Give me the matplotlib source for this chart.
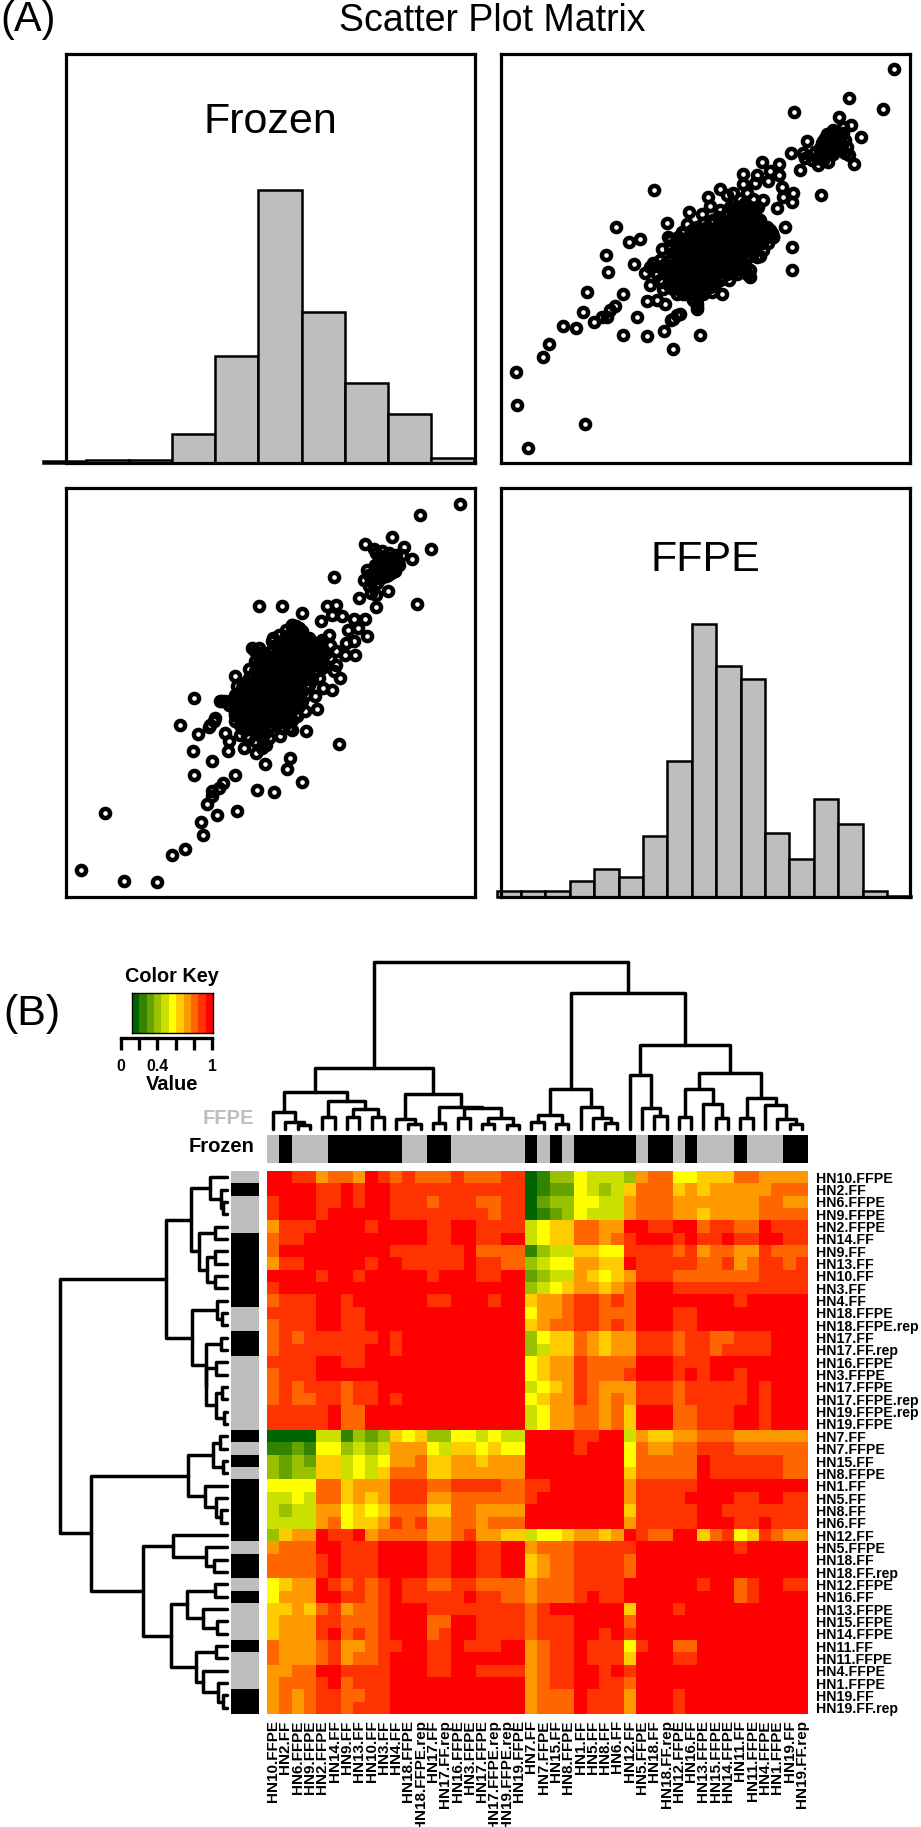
import numpy as np
import matplotlib
matplotlib.use("Agg")
import matplotlib.pyplot as plt
from matplotlib.colors import ListedColormap
from matplotlib.collections import LineCollection

plt.rcParams['font.family'] = ['Liberation Sans', 'DejaVu Sans']

W, H = 921, 1827

# ---------- panel A data (arbitrary expression units) ----------
ffpe_tail = [11.83,10.47,11.48,8.83,10.18,10.52,10.30,10.83,9.22,10.62,8.72,10.48,9.00,9.63,7.85,8.38,8.38,8.10,7.30,7.70,
             7.30,7.65,8.05,8.80,8.45,8.75,8.32,8.50,4.63,6.60,6.80,6.25,7.90,6.30,5.68,6.05,5.00,8.55,3.48,5.60,
             5.45,5.75,4.20,3.87,5.03,8.18,8.77,3.18,7.80,4.87,4.03,4.60,8.75,3.24,4.35,7.50,7.50,6.87,4.50,4.85,
             2.62,3.70,6.65,6.35,4.90,5.20,5.55,4.42,4.70,4.95,3.45,2.50,5.90,5.90,3.30,3.20,3.05,2.82,4.12,1.90,
             2.28,5.30,5.40,5.20,5.12,4.93,3.70,4.42,6.00,1.48,1.28,5.19,0.47,0.52,2.56,0.85]
frozen_tail = [11.80,10.93,10.61,10.51,10.38,10.13,10.06,9.78,9.66,8.95,9.28,9.23,8.78,8.03,9.01,8.95,8.63,8.75,8.65,8.63,
               8.36,8.40,8.46,8.08,8.28,7.83,7.65,7.98,8.18,8.21,8.03,7.96,7.88,7.70,7.53,7.46,7.18,7.08,7.07,7.16,
               6.93,6.93,6.71,6.63,6.76,6.78,6.46,6.23,6.20,6.40,5.97,6.00,5.80,5.72,5.71,5.78,5.58,5.50,5.33,5.43,
               5.14,5.08,5.08,5.13,5.23,5.23,5.08,4.85,4.88,4.78,4.70,4.53,4.63,4.78,4.58,4.38,4.38,4.23,4.37,4.11,
               4.06,4.43,4.46,4.33,4.28,3.96,3.85,3.81,3.83,3.57,3.18,3.42,2.72,1.74,1.16,0.45]
ffpe_upper = [9.75,9.90,10.05,10.20,10.00,9.85,10.15,10.35,10.40,9.90,10.10,9.75,9.60,9.45,9.85,9.55,9.15,9.35,9.10,10.35,10.00,10.30,9.70,9.65,
              9.80,9.95,10.10,9.80,10.00,10.25,9.70,9.95,10.15,9.60,9.50,9.65,9.85,10.00,10.20,9.75]
frozen_upper = [9.73,9.78,9.83,9.73,9.58,9.63,9.58,9.68,9.48,9.43,9.38,9.48,9.28,9.33,9.03,8.93,9.13,9.08,9.28,9.28,9.98,9.88,9.08,9.58,
                9.85,9.60,9.70,9.50,9.45,9.55,9.65,9.90,9.85,9.45,9.15,9.15,9.25,9.25,9.40,9.30]
core_rows = [
    (8.10, [7.0,7.4]),
    (7.90, [7.2,7.6]),
    (7.78, [6.95,7.35]),
    (7.68, [6.9,7.15,7.5,7.75]),
    (7.58, [6.6,7.05,7.35,7.65]),
    (7.48, [6.8,7.1,7.4,7.65]),
    (7.38, [6.55,6.95,7.25,7.55]),
    (7.28, [6.4,6.7,7.0,7.3,7.6,7.8]),
    (7.18, [6.1,6.35,6.85,7.15,7.45,7.75]),
    (7.08, [5.9,6.2,6.5,6.8,7.1,7.4,7.7,8.0]),
    (6.98, [5.75,6.05,6.35,6.65,6.95,7.25,7.55,7.85,8.1]),
    (6.88, [5.5,5.8,6.1,6.4,6.7,7.0,7.3,7.6,7.9,8.15]),
    (6.78, [5.35,5.65,5.95,6.25,6.55,6.85,7.15,7.45,7.75,8.0,8.2]),
    (6.68, [5.1,5.3,5.6,5.9,6.2,6.5,6.8,7.1,7.4,7.7]),
    (6.58, [5.25,5.45,5.75,6.05,6.35,6.65,6.95,7.25,7.55,7.85,8.05]),
    (6.48, [5.1,5.4,5.7,6.0,6.3,6.6,6.9,7.2,7.5]),
    (6.38, [5.55,5.85,6.15,6.45,6.75,7.05,7.35,7.65,7.9]),
    (6.28, [5.2,5.5,5.8,6.1,6.4,6.7,7.0,7.3,7.6]),
    (6.18, [5.35,5.65,5.95,6.25,6.55,6.85,7.15,7.45,7.7]),
    (6.08, [4.8,5.1,5.4,5.7,6.0,6.3,6.6,6.9,7.2]),
    (5.98, [4.95,5.25,5.55,5.85,6.15,6.45,6.75,7.05,7.35]),
    (5.88, [4.5,4.8,5.1,5.4,5.7,6.0,6.3,6.6,6.9,7.2]),
    (5.78, [4.95,5.25,5.55,5.85,6.15,6.45,6.75,7.05,7.35]),
    (5.68, [4.7,5.0,5.3,5.6,5.9,6.2,6.5,6.8,7.1,7.4]),
    (5.58, [5.15,5.45,5.75,6.05,6.35,6.65]),
    (5.48, [4.8,5.1,5.4,5.7,6.0,6.3,6.6]),
    (5.38, [5.25,5.55,5.85,6.15,6.45]),
    (5.28, [5.1,5.4,5.7,6.0,6.3]),
    (5.18, [5.55,5.85,6.15]),
    (5.08, [5.3,5.5,5.8,6.1]),
    (4.98, [5.95]),
    (4.88, [5.8]),
    (4.68, [5.9]),
]
frozen_edges = [-0.69,0.60,1.89,3.18,4.48,5.77,7.06,8.35,9.65,10.94,12.23]
frozen_counts = [2,3,3,25,92,234,130,69,42,4]
ffpe_edges = [-0.10,0.63,1.36,2.10,2.83,3.56,4.29,5.02,5.76,6.49,7.22,7.95,8.68,9.42,10.15,10.88,11.61,12.34]
ffpe_counts = [5,5,5,14,24,17,52,117,234,198,187,55,33,84,63,5,1]

# ---------- panel B data ----------
samples = ["HN10.FFPE","HN2.FF","HN6.FFPE","HN9.FFPE","HN2.FFPE","HN14.FF","HN9.FF","HN13.FF","HN10.FF","HN3.FF","HN4.FF",
           "HN18.FFPE","HN18.FFPE.rep","HN17.FF","HN17.FF.rep","HN16.FFPE","HN3.FFPE","HN17.FFPE","HN17.FFPE.rep",
           "HN19.FFPE.rep","HN19.FFPE","HN7.FF","HN7.FFPE","HN15.FF","HN8.FFPE","HN1.FF","HN5.FF","HN8.FF","HN6.FF",
           "HN12.FF","HN5.FFPE","HN18.FF","HN18.FF.rep","HN12.FFPE","HN16.FF","HN13.FFPE","HN15.FFPE","HN14.FFPE",
           "HN11.FF","HN11.FFPE","HN4.FFPE","HN1.FFPE","HN19.FF","HN19.FF.rep"]

# correlation levels (0-a = 0.0-1.0), upper triangle of the symmetric matrix, one string per row from the diagonal
upper_levels = [
 "aa997887a989888988899" "01335444378855666887777",
 "aaa99a9aa99999999999" "01225434688867677777888",
 "aa99a9aa99989998899" "02335544788877777778877",
 "a9aaaaa99999999899" "01235444788877677778888",
 "aaaa9aaaa99aa9999" "45668877aa99aa89988a999",
 "aaaaaaaa99aa99aa" "456688789aaa9a99a99aa99",
 "aaaa999999a8888" "13446655999989788779888",
 "a9aa99999a9988" "34557766a99999889789989",
 "aaaaa9aaa99aa" "23447656799988888889999",
 "aaaaaaaaaaaa" "345677678aaa99999999999",
 "aaa99aaa9aa" "677899898aaaaaaaa9aaaaa",
 "aaaaaaaaaa" "577899888aaa99aaaaaaaaa",
 "aaaaaaaaa" "678899898aaa99aaaaaaaaa",
 "aaaaaaaa" "35668767799989988999aaa",
 "aaaaaaa" "34668767799989989999aaa",
 "aaaaaa" "567798888aaa999aaaaaaaa",
 "aaaaa" "567798889aaa9a9aa9aaaaa",
 "aaaa" "456798777999899999a9aaa",
 "aaa" "567798787999899999a9aaa",
 "aa" "457788786aaa88999aa9aaa",
 "a" "457788786aaa88999aa9aaa",
 "aaaa99aa476677888777777",
 "aaa9aaa587788999888888",
 "aaaaaa588888a99999988",
 "aaaaa688888a99999988",
 "aaaa799999aaaaaaaaa",
 "aaa79999aaaa99aa99",
 "aa699999aa9999999",
 "a799999aaa99a999",
 "a988aa689569877",
 "aaaaaaaa9aaaaa",
 "aaaaaaaaaaaaa",
 "aaaaaaaaaaaa",
 "aa9aa89aa99",
 "aaaa89aaaa",
 "aaaaaaaaa",
 "aaaaaaaa",
 "aaaaaaa",
 "aaaaaa",
 "aaaaa",
 "aaaa",
 "aaa",
 "aa",
 "a",
]
key_colors = ["#006400","#338300","#66A200","#99C100","#CCE000","#FFFF00","#FFCC00","#FF9900","#FF6600","#FF3300","#FF0000"]
key_levels = [0,1,2,3,4,5,6,7,8,9,10]
key_ticks = [0,0.2,0.4,0.6,0.8,1]
key_ticklabels = ["0","","0.4","","","1"]

# dendrogram: (height, left, right), ints are leaves
tree_a1 = (108,(50,0,(18,1,(10,2,3))),(82,(35,4,5),(58,(35,6,7),(35,8,9))))
tree_a2 = (103,(28,10,(14,11,12)),(63,(16,13,14),(61,(32,15,16),(32,(13,17,18),(9,19,20)))))
tree_c1 = (117,(41,(20,21,22),(12,23,24)),(65,25,(32,26,(17,27,28))))
tree_c3 = (161,29,(62,30,(37,31,32)))
tree_c4 = (166,(118,(34,33,34),(72,35,(30,36,37))),(92,(31,38,39),(71,40,(27,41,(12,42,43)))))
tree_root = (500,(181,tree_a1,tree_a2),(406,tree_c1,(251,tree_c3,tree_c4)))

# ---------- figure ----------
fig = plt.figure(figsize=(W/100, H/100), dpi=100)

def ax_px(x0, y0, x1, y1):
    return fig.add_axes([x0/W, 1-y1/H, (x1-x0)/W, (y1-y0)/H])

def txt(x, y, s, **kw):
    kw.setdefault('ha', 'center')
    kw.setdefault('va', 'center')
    fig.text(x/W, 1-y/H, s, **kw)

ffpe_core = [v for _, row in core_rows for v in row]
frozen_core = [f for f, row in core_rows for _ in row]
ffpe_all = np.array(ffpe_tail + ffpe_upper + ffpe_core)
frozen_all = np.array(frozen_tail + frozen_upper + frozen_core)

XLIM = (0.03, 12.30)
YLIM = (0.0, 12.26)
LEFT, RIGHT = (66, 475), (501, 910)
TOP, BOT = (54, 463), (488, 897)

def box(ax):
    ax.set_xticks([]); ax.set_yticks([])
    for s in ax.spines.values():
        s.set_linewidth(2.3)
        s.set_zorder(5)

def scatter_panel(xr, yr, xs, ys, xl, yl):
    ax = ax_px(xr[0], yr[0], xr[1], yr[1])
    ax.plot(xs, ys, ls='none', marker='o', ms=6.6, mfc='none', mec='black', mew=3.2)
    ax.set_xlim(xl); ax.set_ylim(yl)
    box(ax)

def hist_panel(xr, yr, edges, counts, xl):
    ax = ax_px(xr[0], yr[0], xr[1], yr[1])
    edges = np.array(edges)
    ax.bar(edges[:-1], counts, width=np.diff(edges), align='edge', color='#BEBEBE',
           edgecolor='black', linewidth=1.8, clip_on=False)
    ax.set_xlim(xl); ax.set_ylim(0, 351)
    box(ax)

hist_panel(LEFT, TOP, frozen_edges, frozen_counts, YLIM)
scatter_panel(RIGHT, TOP, ffpe_all, frozen_all, XLIM, YLIM)
scatter_panel(LEFT, BOT, frozen_all, ffpe_all, YLIM, XLIM)
hist_panel(RIGHT, BOT, ffpe_edges, ffpe_counts, XLIM)

txt(0, 20, "(A)", fontsize=30, ha='left')
txt(492, 21, "Scatter Plot Matrix", fontsize=27)
txt(270, 122, "Frozen", fontsize=31)
txt(705, 560, "FFPE", fontsize=31)
txt(3, 1014, "(B)", fontsize=31, ha='left')

# heatmap
n = len(samples)
matrix = np.zeros((n, n))
for i, row in enumerate(upper_levels):
    assert len(row) == n - i, (i, len(row))
    for k, ch in enumerate(row):
        matrix[i, i+k] = matrix[i+k, i] = int(ch, 16) / 10

cmap = ListedColormap(key_colors)
HM = (267, 1171, 808, 1714)
ax = ax_px(*HM)
ax.imshow(matrix, cmap=cmap, vmin=0, vmax=1, aspect='auto', interpolation='nearest')
for s in ax.spines.values():
    s.set_visible(False)
ax.set_xticks(range(n)); ax.set_xticklabels(samples, rotation=90, fontsize=11, fontweight='bold')
ax.yaxis.tick_right()
ax.set_yticks(range(n)); ax.set_yticklabels(samples, fontsize=10.2, fontweight='bold')
ax.tick_params(axis='y', length=0, pad=6.0)
ax.tick_params(axis='x', length=0, pad=4.5)

# side colour bars
is_frozen = np.array([0 if s.endswith("FFPE") or s.endswith("FFPE.rep") else 1 for s in samples])
bar_cmap = ListedColormap(["#BEBEBE", "#000000"])
ax = ax_px(HM[0], 1135, HM[2], 1163)
ax.imshow(is_frozen[None, :], cmap=bar_cmap, vmin=0, vmax=1, aspect='auto', interpolation='nearest')
ax.axis('off')
ax = ax_px(231, HM[1], 259, HM[3])
ax.imshow(is_frozen[:, None], cmap=bar_cmap, vmin=0, vmax=1, aspect='auto', interpolation='nearest')
ax.axis('off')
txt(254, 1118, "FFPE", fontsize=14.5, fontweight='bold', color='#BEBEBE', ha='right')
txt(254, 1147, "Frozen", fontsize=14.5, fontweight='bold', ha='right')

# dendrograms
def segments(node, out):
    if isinstance(node, int):
        return node + 0.5, 0
    h, a, b = node
    pa, ha = segments(a, out)
    pb, hb = segments(b, out)
    out.append([(pa, ha), (pa, h), (pb, h), (pb, hb)])
    return (pa + pb) / 2, h

segs = []
segments(tree_root, segs)
ax = ax_px(HM[0], 961.8, HM[2], 1128.5)
ax.add_collection(LineCollection(segs, colors='black', linewidths=2.5, capstyle='round', joinstyle='round', clip_on=False))
ax.set_xlim(0, n); ax.set_ylim(0, 500)
ax.axis('off')
ax = ax_px(59.7, HM[1], 226.7, HM[3])
ax.add_collection(LineCollection([[(y, x) for x, y in s] for s in segs], colors='black', linewidths=2.5,
                                 capstyle='round', joinstyle='round', clip_on=False))
ax.set_xlim(500, 0); ax.set_ylim(n, 0)
ax.axis('off')

# colour key
ax = ax_px(132, 993, 213, 1033)
ax.imshow(np.array(key_levels)[None, :] / 10, cmap=cmap, vmin=0, vmax=1, aspect='auto', interpolation='nearest')
ax.set_xticks([]); ax.set_yticks([])
for s in ax.spines.values():
    s.set_linewidth(1.0)
ax = ax_px(121, 1028, 212, 1037.5)
for k in ('top', 'left', 'right'):
    ax.spines[k].set_visible(False)
ax.spines['bottom'].set_linewidth(2.4)
ax.set_xlim(0, 1); ax.set_yticks([])
ax.set_xticks(key_ticks); ax.set_xticklabels(key_ticklabels, fontsize=11.4, fontweight='bold')
ax.tick_params(axis='x', length=8.6, width=2.4, pad=7)
ax.patch.set_alpha(0)
txt(172, 977, "Color Key", fontsize=14.3, fontweight='bold')
txt(172, 1084, "Value", fontsize=14.5, fontweight='bold')

fig.savefig("out.png", dpi=100)
